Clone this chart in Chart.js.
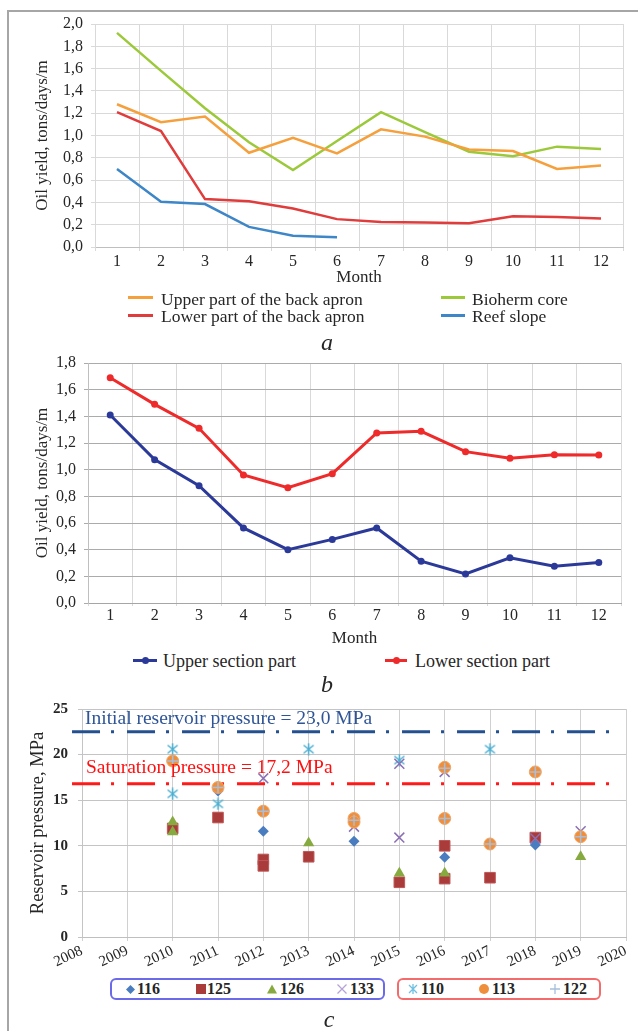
<!DOCTYPE html>
<html><head><meta charset="utf-8">
<script src="https://cdn.jsdelivr.net/npm/chart.js@4"></script>
<style>
html,body{margin:0;padding:0;background:#fff;}
body{width:638px;height:1031px;position:relative;overflow:hidden;font-family:"Liberation Serif","Times New Roman",serif;color:#262626;}
#frame{position:absolute;left:7px;top:10px;width:700px;height:1100px;border-left:2px solid #a6a6a6;border-top:2px solid #a6a6a6;}
canvas{position:absolute;left:0;}
.t{position:absolute;white-space:nowrap;line-height:1;}
.sw{position:absolute;height:3px;}
.dot{position:absolute;width:7px;height:7px;border-radius:50%;}
.box{position:absolute;border-radius:6px;box-sizing:border-box;}
.lg{position:absolute;white-space:nowrap;line-height:1;font-size:16px;font-weight:bold;}
.mk{position:absolute;}
.sub{position:absolute;font-style:italic;font-size:24px;line-height:1;transform:translateX(-50%);}
</style></head><body>
<div id="frame"></div>
<canvas id="ca" width="638" height="290" style="top:0"></canvas>
<canvas id="cb" width="638" height="310" style="top:340px"></canvas>
<canvas id="cc" width="638" height="285" style="top:690px"></canvas>

<!-- legend a -->
<div class="sw" style="left:128px;top:296px;width:25px;background:#f5a03c"></div>
<div class="t" style="left:161px;top:291px;font-size:17.5px">Upper part of the back apron</div>
<div class="sw" style="left:441px;top:296px;width:24px;background:#9bc93a"></div>
<div class="t" style="left:472px;top:291px;font-size:17.5px">Bioherm core</div>
<div class="sw" style="left:128px;top:314px;width:25px;background:#e03c3c"></div>
<div class="t" style="left:161px;top:307.5px;font-size:17.5px">Lower part of the back apron</div>
<div class="sw" style="left:441px;top:314px;width:24px;background:#3d86c8"></div>
<div class="t" style="left:472px;top:307.5px;font-size:17.5px">Reef slope</div>
<div class="sub" style="left:327px;top:330px">a</div>

<!-- legend b -->
<div class="sw" style="left:133px;top:659px;width:24px;background:#2b3a99"></div>
<div class="dot" style="left:141.5px;top:657px;background:#2b3a99"></div>
<div class="t" style="left:163px;top:651.5px;font-size:18px">Upper section part</div>
<div class="sw" style="left:385px;top:659px;width:22px;background:#ee2a2a"></div>
<div class="dot" style="left:392.5px;top:657px;background:#ee2a2a"></div>
<div class="t" style="left:415px;top:651.5px;font-size:18px">Lower section part</div>
<div class="sub" style="left:327px;top:672px">b</div>

<!-- pressure labels c -->
<div class="t" style="left:85px;top:707.7px;font-size:19.5px;color:#2f5597">Initial reservoir pressure = 23,0 MPa</div>
<div class="t" style="left:86px;top:757px;font-size:19.5px;color:#ff1010">Saturation pressure = 17,2 MPa</div>

<!-- legend c -->
<div class="box" style="left:110px;top:978px;width:275px;height:22px;border:2px solid #6b6bea"></div>
<div class="box" style="left:397px;top:978px;width:204px;height:22px;border:2px solid #f36b6b"></div>
<svg class="mk" style="left:125.5px;top:984.5px" width="9" height="9"><polygon points="4.5,0 9,4.5 4.5,9 0,4.5" fill="#4a7dbf"/></svg>
<div class="lg" style="left:137px;top:980.6px">116</div>
<svg class="mk" style="left:196px;top:984px" width="10" height="10"><rect x="0" y="0" width="10" height="10" fill="#a93b3b"/></svg>
<div class="lg" style="left:207px;top:980.6px">125</div>
<svg class="mk" style="left:267px;top:984px" width="10" height="10"><polygon points="5,0.5 10,9.5 0,9.5" fill="#86aa3f"/></svg>
<div class="lg" style="left:280px;top:980.6px">126</div>
<svg class="mk" style="left:337px;top:984px" width="10" height="10"><path d="M0.5 0.5L9.5 9.5M9.5 0.5L0.5 9.5" stroke="#b3a3d6" stroke-width="1.3"/></svg>
<div class="lg" style="left:350px;top:980.6px">133</div>
<svg class="mk" style="left:408px;top:984px" width="10" height="10"><path d="M5 0L5 10M1 1L9 9M9 1L1 9" stroke="#6ec0e0" stroke-width="1.3"/></svg>
<div class="lg" style="left:421px;top:980.6px">110</div>
<svg class="mk" style="left:479px;top:984px" width="10" height="10"><circle cx="5" cy="5" r="5" fill="#ef8f3c"/></svg>
<div class="lg" style="left:492px;top:980.6px">113</div>
<svg class="mk" style="left:550px;top:984px" width="10" height="10"><path d="M5 0L5 10M0 5L10 5" stroke="#a6bfdc" stroke-width="1.3"/></svg>
<div class="lg" style="left:563px;top:980.6px">122</div>
<div class="sub" style="left:329px;top:1007px">c</div>

<script>
// ---------- DATA ----------
const months = ['1','2','3','4','5','6','7','8','9','10','11','12'];
// panel a
const upperApron = [1.28,1.12,1.17,0.845,0.98,0.84,1.055,0.99,0.875,0.86,0.70,0.73];
const biohermCore = [1.92,1.58,1.245,0.94,0.69,0.95,1.21,1.03,0.855,0.815,0.90,0.88];
const lowerApron = [1.21,1.04,0.43,0.41,0.345,0.25,0.225,0.22,0.213,0.275,0.27,0.255];
const reefSlope = [0.70,0.405,0.385,0.18,0.10,0.087];
// panel b
const upperSection = [1.41,1.075,0.88,0.563,0.40,0.477,0.563,0.314,0.218,0.339,0.276,0.304];
const lowerSection = [1.69,1.49,1.31,0.96,0.865,0.97,1.275,1.288,1.135,1.085,1.112,1.11];
// panel c (well: years, pressures)
const w116Years = [2011,2012,2014,2016,2018];
const w116Vals  = [16.0,11.6,10.5,8.75,10.1];
const w125Years = [2010,2011,2012,2012,2013,2015,2016,2016,2017,2018];
const w125Vals  = [11.9,13.1,8.5,7.8,8.8,6.0,10.0,6.4,6.5,10.9];
const w126Years = [2010,2010,2013,2015,2016,2019];
const w126Vals  = [12.6,11.5,10.3,7.0,7.0,8.8];
const w133Years = [2012,2014,2015,2015,2016,2018,2019];
const w133Vals  = [17.4,12.1,19.0,10.9,18.1,10.8,11.6];
const w110Years = [2010,2010,2011,2013,2015,2017];
const w110Vals  = [20.6,15.7,14.6,20.6,19.4,20.6];
const w113Years = [2010,2011,2012,2014,2014,2016,2016,2017,2018,2019];
const w113Vals  = [19.3,16.4,13.8,13.0,12.6,18.6,13.0,10.2,18.1,11.0];
const w122Years = [2010,2011,2012,2014,2016,2016,2017,2018,2019];
const w122Vals  = [19.3,16.4,13.8,12.8,18.5,13.0,10.2,18.1,11.0];
const initialPressure = 22.5;
const saturationPressure = 16.8;
const pressureLineYears = [2007.78, 2019.82];

// ---------- CHARTS ----------
const serif = '"Liberation Serif","Times New Roman",serif';
Chart.defaults.font.family = serif;
Chart.defaults.color = '#262626';
Chart.defaults.animation = false;
const fmt1 = v => Number(v).toFixed(1).replace('.', ',');
const pts = (xs, ys) => xs.map((x,i)=>({x:x, y:ys[i]}));

function lineDs(label, data, color, w, pr){
  return {label, data, borderColor:color, backgroundColor:color, borderWidth:w,
    pointRadius:pr, pointBorderWidth:0, pointBackgroundColor:color, tension:0, fill:false};
}

new Chart(document.getElementById('ca'), {
  type:'line',
  data:{labels:months, datasets:[
    lineDs('Reef slope', reefSlope, '#3d86c8', 2.5, 0),
    lineDs('Lower part of the back apron', lowerApron, '#e03c3c', 2.5, 0),
    lineDs('Upper part of the back apron', upperApron, '#f5a03c', 2.5, 0),
    lineDs('Bioherm core', biohermCore, '#9bc93a', 2.5, 0)
  ]},
  options:{responsive:false, animation:false,
    layout:{padding:{top:24,right:15,left:0,bottom:0}},
    plugins:{legend:{display:false}, tooltip:{enabled:false}},
    scales:{
      x:{offset:true, grid:{offset:true,color:'#d9d9d9',tickLength:4}, border:{color:'#bfbfbf'},
         ticks:{font:{size:16},padding:1,maxRotation:0,autoSkip:false},
         title:{display:true,text:'Month',font:{size:17},padding:{top:0,bottom:2}},
         afterFit:s=>{s.height=43;}},
      y:{min:0,max:2, ticks:{stepSize:0.2,callback:fmt1,font:{size:16},padding:8},
         grid:{color:'#d9d9d9',tickLength:4}, border:{color:'#d9d9d9'},
         title:{display:true,text:'Oil yield, tons/days/m',font:{size:17},padding:{top:32,bottom:0}},
         afterFit:s=>{s.width=95;}}
    }}
});

new Chart(document.getElementById('cb'), {
  type:'line',
  data:{labels:months, datasets:[
    lineDs('Upper section part', upperSection, '#2b3a99', 3, 3.5),
    lineDs('Lower section part', lowerSection, '#ee2a2a', 3, 3.5)
  ]},
  options:{responsive:false, animation:false,
    layout:{padding:{top:23,right:17,left:0,bottom:0}},
    plugins:{legend:{display:false}, tooltip:{enabled:false}},
    scales:{
      x:{offset:true, grid:{offset:true,color:'#d9d9d9',tickLength:3}, border:{color:'#a6a6a6'},
         ticks:{font:{size:16},padding:0,maxRotation:0,autoSkip:false},
         title:{display:true,text:'Month',font:{size:17},padding:{top:0,bottom:1}},
         afterFit:s=>{s.height=47;}},
      y:{min:0,max:1.8, ticks:{stepSize:0.2,callback:fmt1,font:{size:16},padding:8},
         grid:{color:'#ababab',tickLength:4}, border:{color:'#bfbfbf'},
         title:{display:true,text:'Oil yield, tons/days/m',font:{size:17},padding:{top:32,bottom:0}},
         afterFit:s=>{s.width=88;}}
    }}
});

function starImg(color){
  const c = document.createElement('canvas'); c.width = 13; c.height = 13;
  const g = c.getContext('2d'); g.strokeStyle = color; g.lineWidth = 1.5;
  g.beginPath(); g.moveTo(6.5,0.5); g.lineTo(6.5,12.5);
  g.moveTo(1.5,2.5); g.lineTo(11.5,10.5); g.moveTo(11.5,2.5); g.lineTo(1.5,10.5); g.stroke();
  return c;
}
function sc(label, data, style, r, fill, stroke, order, bw){
  return {type:'scatter', label, data, pointStyle:style, pointRadius:r, order:order,
    backgroundColor:fill, borderColor:stroke, pointBorderWidth:bw===undefined?1:bw, showLine:false};
}
function pline(label, y, color, order){
  return {type:'line', label, data:pressureLineYears.map(x=>({x:x,y:y})), borderColor:color,
    borderWidth:3, borderDash:[28,11,3,13], pointRadius:0, clip:false, order:order, fill:false};
}

new Chart(document.getElementById('cc'), {
  type:'scatter',
  data:{datasets:[
    pline('Initial reservoir pressure', initialPressure, '#24508f', 20),
    pline('Saturation pressure', saturationPressure, '#ff1a1a', 21),
    sc('116', pts(w116Years,w116Vals), 'rectRot', 5.5, '#4a7dbf', '#4a7dbf', 6, 0),
    sc('125', pts(w125Years,w125Vals), 'rect', 7.5, '#a93b3b', '#c05656', 7, 1),
    sc('126', pts(w126Years,w126Vals), 'triangle', 6.5, '#86aa3f', '#86aa3f', 5, 0),
    sc('133', pts(w133Years,w133Vals), 'crossRot', 7, '#8b6fb5', '#8b6fb5', 2, 1.5),
    sc('110', pts(w110Years,w110Vals), starImg('#4aaed0'), 6, '#4aaed0', '#4aaed0', 3, 1.5),
    sc('113', pts(w113Years,w113Vals), 'circle', 6, '#ef8f3c', '#f3a462', 1, 1),
    sc('122', pts(w122Years,w122Vals), 'cross', 5.5, '#a6bfdc', '#a6bfdc', 0, 1.5)
  ]},
  options:{responsive:false, animation:false,
    layout:{padding:{top:16,right:12,left:0,bottom:0}},
    plugins:{legend:{display:false}, tooltip:{enabled:false}},
    scales:{
      x:{type:'linear', min:2008, max:2020,
         ticks:{stepSize:1, callback:v=>String(v), font:{size:15}, padding:1, minRotation:25, maxRotation:25, autoSkip:false},
         grid:{color:'#d0d0d0',tickLength:4}, border:{color:'#bfbfbf'},
         afterFit:s=>{s.height=38;}},
      y:{min:0,max:25, ticks:{stepSize:5,font:{size:15,weight:'bold'},padding:10},
         grid:{color:'#c4c4c4',tickLength:4}, border:{color:'#c4c4c4'},
         title:{display:true,text:'Reservoir pressure, MPa',font:{size:18.5},padding:{top:27,bottom:0}},
         afterFit:s=>{s.width=82;}}
    }}
});
</script>
</body></html>
